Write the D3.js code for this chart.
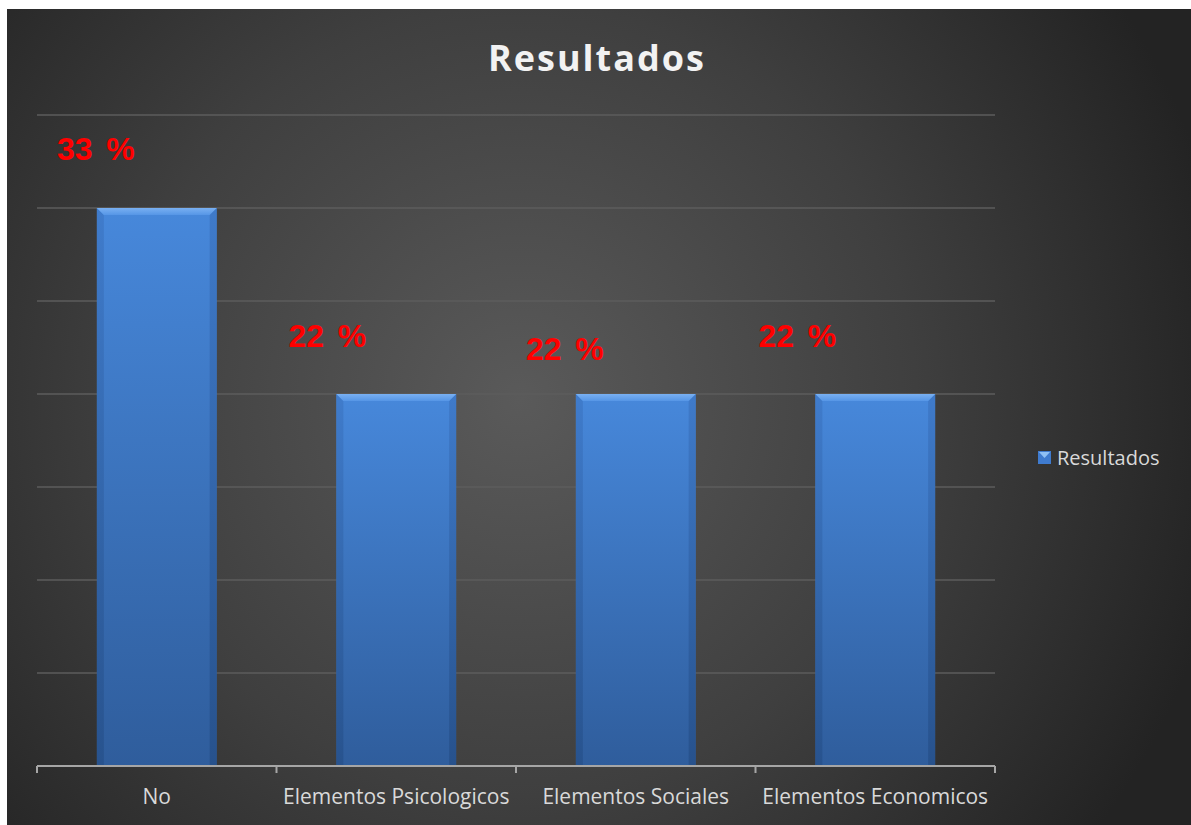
<!DOCTYPE html>
<html><head><meta charset="utf-8">
<script src="https://cdn.jsdelivr.net/npm/d3@7"></script>
<style>html,body{margin:0;padding:0;background:#fff;}svg{display:block;}</style>
</head><body>
<script>
const categories = ["No", "Elementos Psicologicos", "Elementos Sociales", "Elementos Economicos"];
const values = [3, 2, 2, 2];
const valueLabels = ["33 %", "22 %", "22 %", "22 %"];
const seriesName = "Resultados";
const titleText = "Resultados";
const yTicks = [0.5, 1, 1.5, 2, 2.5, 3, 3.5];

const W = 1191, H = 825;
const svg = d3.select("body").append("svg").attr("width", W).attr("height", H);
const defs = svg.append("defs");

const bg = defs.append("radialGradient").attr("id","bg").attr("gradientUnits","userSpaceOnUse")
  .attr("cx",520).attr("cy",400).attr("r",720);
bg.append("stop").attr("offset","0").attr("stop-color","#5a5a5a");
bg.append("stop").attr("offset","0.55").attr("stop-color","#3f3f3f");
bg.append("stop").attr("offset","1").attr("stop-color","#232323");

const barG = defs.append("linearGradient").attr("id","barg").attr("x1",0).attr("y1",0).attr("x2",0).attr("y2",1);
barG.append("stop").attr("offset","0").attr("stop-color","#4788db");
barG.append("stop").attr("offset","1").attr("stop-color","#2f5d9c");
const topG = defs.append("linearGradient").attr("id","topg").attr("x1",0).attr("y1",0).attr("x2",0).attr("y2",1);
topG.append("stop").attr("offset","0").attr("stop-color","#79b0f2");
topG.append("stop").attr("offset","1").attr("stop-color","#5696e6");
const sideG = defs.append("linearGradient").attr("id","sideg").attr("x1",0).attr("y1",0).attr("x2",0).attr("y2",1);
sideG.append("stop").attr("offset","0").attr("stop-color","#3e79c8");
sideG.append("stop").attr("offset","1").attr("stop-color","#26508a");

svg.append("rect").attr("x",7).attr("y",9).attr("width",W-7).attr("height",H-9).attr("fill","url(#bg)");

const x = d3.scaleBand().domain(categories).range([37, 995]).paddingInner(0.5).paddingOuter(0.25);
const y = d3.scaleLinear().domain([0, 3.5]).range([766, 115]);

// gridlines
svg.append("g").selectAll("line").data(yTicks).join("line")
  .attr("x1",37).attr("x2",995).attr("y1",d=>y(d)).attr("y2",d=>y(d))
  .attr("stroke","#5c5c5c").attr("stroke-width",1.5);

// bars
const bars = svg.append("g").selectAll("g").data(categories).join("g");
const bevel = 7;
bars.append("rect").attr("x",d=>x(d)).attr("y",(d,i)=>y(values[i]))
  .attr("width",x.bandwidth()).attr("height",(d,i)=>y(0)-y(values[i])).attr("fill","url(#barg)");
bars.append("path").attr("fill","url(#sideg)").attr("opacity",0.8)
  .attr("d",(d,i)=>{const x0=x(d),t=y(values[i]),b=y(0);return `M${x0},${t}L${x0+bevel},${t+bevel}L${x0+bevel},${b}L${x0},${b}Z`;});
bars.append("path").attr("fill","url(#sideg)").attr("opacity",0.9)
  .attr("d",(d,i)=>{const x1=x(d)+x.bandwidth(),t=y(values[i]),b=y(0);return `M${x1},${t}L${x1-bevel},${t+bevel}L${x1-bevel},${b}L${x1},${b}Z`;});
bars.append("path").attr("fill","url(#topg)")
  .attr("d",(d,i)=>{const x0=x(d),x1=x0+x.bandwidth(),t=y(values[i]);return `M${x0},${t}L${x1},${t}L${x1-bevel},${t+bevel}L${x0+bevel},${t+bevel}Z`;});

// axis
const axis = svg.append("g").attr("transform",`translate(0,${y(0)})`);
axis.append("line").attr("x1",37).attr("x2",995).attr("y1",0).attr("y2",0).attr("stroke","#a6a6a6").attr("stroke-width",2);
const bounds = [37].concat(categories.map(c=>x(c)+x.bandwidth()+(x.step()-x.bandwidth())/2));
axis.selectAll("line.tick").data(bounds).join("line").attr("class","tick")
  .attr("x1",d=>d).attr("x2",d=>d).attr("y1",0).attr("y2",7).attr("stroke","#a6a6a6").attr("stroke-width",2);
axis.selectAll("text").data(categories).join("text")
  .attr("x",d=>x(d)+x.bandwidth()/2).attr("y",38).attr("text-anchor","middle")
  .attr("font-family","'Open Sans', sans-serif").attr("font-size",21).attr("fill","#d9d9d9").text(d=>d);

// value labels (manually nudged like the original)
const nudge = [[-40,-48],[-48,-47],[-50,-34],[-57,-47]];
svg.append("g").selectAll("text").data(valueLabels).join("text")
  .attr("x",(d,i)=>x(categories[i])+nudge[i][0]).attr("y",(d,i)=>y(values[i])+nudge[i][1])
  .attr("font-family","'Liberation Sans', Arial, sans-serif").attr("font-weight","bold")
  .attr("font-size",32).attr("word-spacing",5).attr("fill","#ff0000").text(d=>d);

// title
svg.append("text").attr("x",597).attr("y",71).attr("text-anchor","middle")
  .attr("font-family","'Open Sans', sans-serif").attr("font-weight","bold").attr("font-size",36)
  .attr("letter-spacing",2).attr("fill","#f2f2f2").text(titleText);

// legend
const lg = svg.append("g").attr("transform","translate(1038,451)");
lg.append("rect").attr("width",13).attr("height",13).attr("fill","#3f7bcf");
lg.append("path").attr("d","M1,1L12,1L6.5,7Z").attr("fill","#8fc0f5");
lg.append("text").attr("x",19).attr("y",14).attr("font-family","'Open Sans', sans-serif")
  .attr("font-size",20).attr("fill","#d9d9d9").text(seriesName);
</script>
</body></html>
